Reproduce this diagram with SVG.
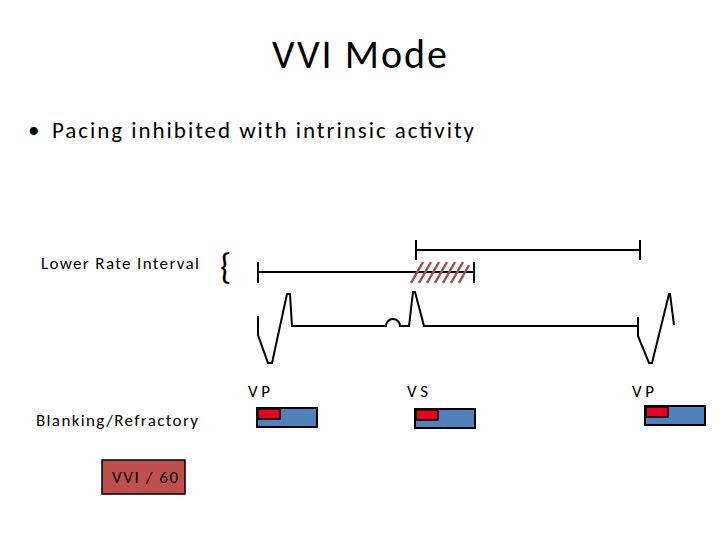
<svg xmlns="http://www.w3.org/2000/svg" width="720" height="540" viewBox="0 0 720 540">
<style>
text{font-family:Calibri,Carlito,"Liberation Sans",sans-serif;fill:#000}
.ln{stroke:#000;stroke-width:2;fill:none}
.bx{fill:#4f81bd;stroke:#000;stroke-width:2}
.rd{fill:#e8001c;stroke:#000;stroke-width:1.5}
.h{stroke:#a0504d;stroke-width:2.5}
</style>
<rect width="720" height="540" fill="#fff"/>
<text x="272" y="68" font-size="40" textLength="175" lengthAdjust="spacing">VVI Mode</text>
<text x="28" y="138" font-size="23">•</text>
<text x="52" y="138" font-size="23" textLength="422" lengthAdjust="spacing">Pacing inhibited with intrinsic activity</text>
<g id="lri-label"><text x="41" y="269" font-size="17" textLength="158" lengthAdjust="spacing">Lower Rate Interval</text>
<text x="220" y="279" font-size="36" font-family="Liberation Serif,serif">{</text></g>
<g id="intervals">
<path class="ln" d="M416,250H640M416,240V260M640,240V260"/>
<path class="ln" d="M258,272H474M258,262V283M474,262V283"/>
<g class="h"><path d="M411,283L423,262M419,283L431,262M427,283L439,262M435,283L447,262M443,283L455,262M451,283L463,262M459,283L469,265"/></g>
</g>
<g id="ecg"><path class="ln" d="M258,316V335L268,363H272L287,294H290L292,326H386A7,7 0 0 1 400,326H409L413,292H415L424,326H638L638,317V336L649,363H652L669,294H670L674,325"/></g>
<g id="labels">
<text x="248" y="397" font-size="17" textLength="22" lengthAdjust="spacing">VP</text>
<text x="407" y="397" font-size="17" textLength="21" lengthAdjust="spacing">VS</text>
<text x="632" y="397" font-size="17" textLength="22" lengthAdjust="spacing">VP</text>
<text x="36" y="426" font-size="17" textLength="162" lengthAdjust="spacing">Blanking/Refractory</text>
</g>
<g id="br1"><rect class="bx" x="257" y="408" width="60" height="19"/><rect class="rd" x="258" y="409" width="22" height="10"/></g>
<g id="br2"><rect class="bx" x="415" y="409" width="60" height="19"/><rect class="rd" x="416" y="410" width="22" height="10"/></g>
<g id="br3"><rect class="bx" x="645" y="406" width="60" height="19"/><rect class="rd" x="646" y="407" width="22" height="10"/></g>
<g id="mode"><rect x="102" y="460" width="83" height="34" fill="#c0504d" stroke="#000" stroke-width="1.5"/>
<text x="112" y="483" font-size="17" textLength="66" lengthAdjust="spacing">VVI / 60</text></g>
</svg>
